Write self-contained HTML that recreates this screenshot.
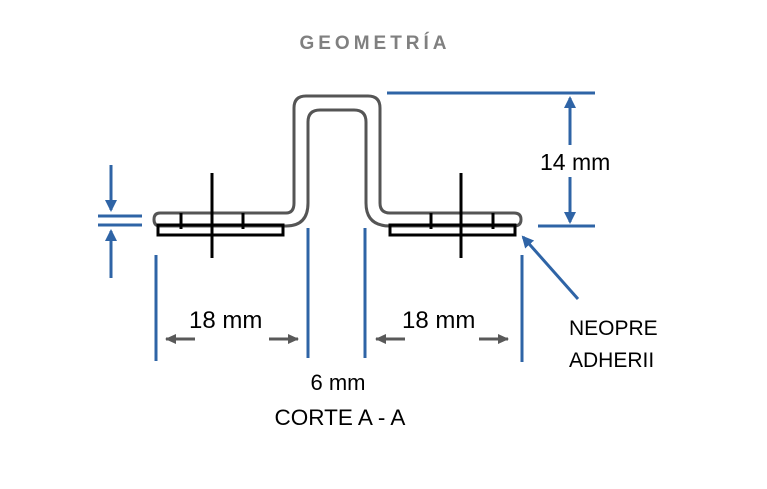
<!DOCTYPE html>
<html><head><meta charset="utf-8"><style>
html,body{margin:0;padding:0;background:#fff;}
svg{display:block;}
text{font-family:"Liberation Sans",sans-serif;}
</style></head><body>
<svg width="767" height="489" viewBox="0 0 767 489" xmlns="http://www.w3.org/2000/svg">
<defs>
<marker id="ab2" markerWidth="12" markerHeight="12" refX="10" refY="6" orient="auto" markerUnits="userSpaceOnUse"><path d="M0,0 L12,6 L0,12 Z" fill="#2f64a6"/></marker>
<marker id="ag" markerWidth="11" markerHeight="10" refX="10" refY="5" orient="auto" markerUnits="userSpaceOnUse"><path d="M0,0 L11,5 L0,10 Z" fill="#595959"/></marker>
</defs>
<text x="375" y="49" text-anchor="middle" font-size="19" font-weight="bold" fill="#808080" letter-spacing="4">GEOMETRÍA</text>
<path d="M160,213 L286,213 Q294,213 294,203 L294,108 Q294,96 306,96 L368,96 Q380,96 380,108 L380,203 Q380,213 390,213 L514,213 Q521,213 521,219.5 Q521,226 514,226 L390,226 Q366,226 366,203 L366,122 Q366,110 354,110 L320,110 Q308,110 308,122 L308,203 Q308,226 286,226 L160,226 Q154,226 154,219.5 Q154,213 160,213 Z" fill="none" stroke="#555" stroke-width="3"/>
<g stroke="#000" stroke-width="3" fill="none">
<rect x="158" y="225" width="125" height="10"/>
<rect x="390" y="225" width="125" height="10"/>
<line x1="181" y1="213" x2="181" y2="229"/><line x1="243" y1="213" x2="243" y2="229"/>
<line x1="212" y1="173" x2="212" y2="258"/>
<line x1="431" y1="213" x2="431" y2="229"/><line x1="493" y1="213" x2="493" y2="229"/>
<line x1="461" y1="173" x2="461" y2="258"/>
</g>
<g stroke="#2f64a6" stroke-width="3" fill="none">
<line x1="387" y1="93" x2="595" y2="93"/>
<line x1="538" y1="226" x2="595" y2="226"/>
<line x1="570" y1="145" x2="570" y2="98" marker-end="url(#ab2)"/>
<line x1="570" y1="177" x2="570" y2="222" marker-end="url(#ab2)"/>
<line x1="98" y1="216" x2="142" y2="216"/>
<line x1="98" y1="225" x2="142" y2="225"/>
<line x1="111" y1="165" x2="111" y2="210" marker-end="url(#ab2)"/>
<line x1="111" y1="278" x2="111" y2="231" marker-end="url(#ab2)"/>
<line x1="156" y1="255" x2="156" y2="361"/>
<line x1="308" y1="228" x2="308" y2="358"/>
<line x1="365" y1="228" x2="365" y2="358"/>
<line x1="522" y1="255" x2="522" y2="362"/>
<line x1="578" y1="299" x2="523" y2="237" marker-end="url(#ab2)"/>
</g>
<g stroke="#595959" stroke-width="3">
<line x1="195" y1="339" x2="166" y2="339" marker-end="url(#ag)"/>
<line x1="269" y1="339" x2="298" y2="339" marker-end="url(#ag)"/>
<line x1="405" y1="339" x2="376" y2="339" marker-end="url(#ag)"/>
<line x1="479" y1="339" x2="508" y2="339" marker-end="url(#ag)"/>
</g>
<g font-size="24" fill="#000">
<text x="540" y="170" font-size="23">14 mm</text>
<text x="189" y="328">18 mm</text>
<text x="402" y="328">18 mm</text>
<text x="338" y="390" text-anchor="middle" font-size="22">6 mm</text>
<text x="340" y="425" text-anchor="middle" font-size="22.5">CORTE A - A</text>
<text x="569" y="335" font-size="21">NEOPRE</text>
<text x="569" y="367" font-size="21">ADHERII</text>
</g>
</svg>
</body></html>
